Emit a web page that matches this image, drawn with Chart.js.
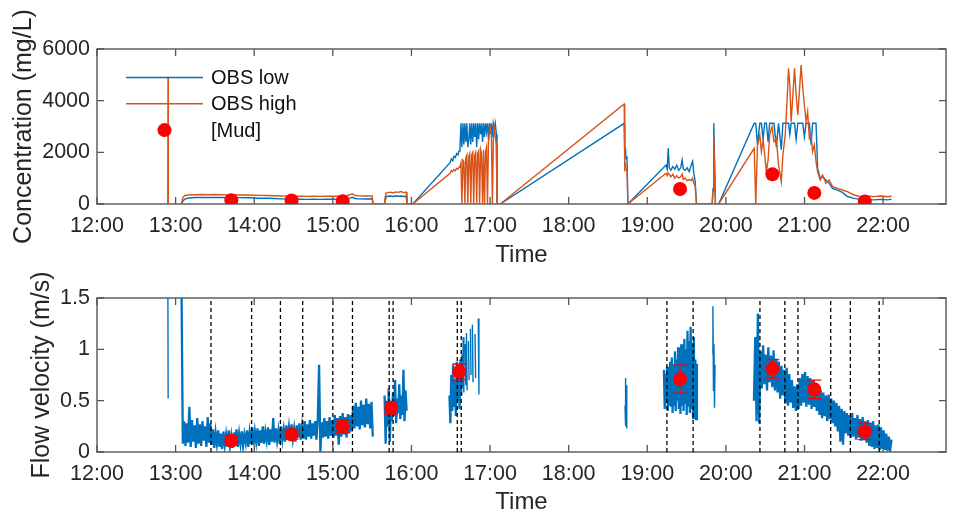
<!DOCTYPE html>
<html>
<head>
<meta charset="utf-8">
<script src="https://cdn.jsdelivr.net/npm/chart.js@4.4.1/dist/chart.umd.min.js"></script>
<style>
  html, body { margin: 0; padding: 0; background: #fff; }
  #wrap { position: relative; width: 953px; height: 517px; }
  canvas { position: absolute; left: 0; }
  #conc { top: 0; }
  #vel { top: 270px; }
</style>
</head>
<body>
<div id="wrap">
  <canvas id="conc" width="953" height="270"></canvas>
  <canvas id="vel" width="953" height="247"></canvas>
</div>
<script>
// Time is measured in minutes after 12:00
const hourTicks = [0, 60, 120, 180, 240, 300, 360, 420, 480, 540, 600];
const hourLabels = ['12:00', '13:00', '14:00', '15:00', '16:00', '17:00', '18:00', '19:00', '20:00', '21:00', '22:00'];
const timeMax = 648;

const concTicks = [0, 2000, 4000, 6000];
const concLabels = ['0', '2000', '4000', '6000'];
const velTicks = [0, 0.5, 1, 1.5];
const velLabels = ['0', '0.5', '1', '1.5'];

// OBS turbidity record (mg/L); null marks a break in logging
const obsTime = [
  54.0, 54.2, 54.4, 60,
  64.5, 65.5, 67, 70, 75, 80, 85, 90, 95, 100, 105, 110, 115, 120, 125, 130, 135, 140, 145, 150, 155,
  160, 165, 170, 175, 180, 185, 190, 193, 195, 197, 200, 205, 210, 210.7,
  219.5, 220, 220.5, 222, 224, 226, 228, 230, 232, 234, 236, 236.6,
  241, 269.5, 270.5, 271.5, 272.5, 273.5, 274.5, 275.5, 276.3,
  277, 277.8, 278.5, 279.3, 280, 280.8, 281.5, 282.3, 283, 283.8, 284.5, 285.3, 286, 286.8, 287.5,
  288.3, 289, 289.8, 290.5, 291.3, 292, 292.8, 293.5, 294.3, 295, 295.8, 296.5, 297.3, 298, 298.8,
  299.5, 300.3, 301, 301.8, 302.5, 303.3, 304, 304.8, 305.3,
  307.8, 402.4, 402.8, 403.3, 403.8, 404.5, 405.2,
  434.3, 435.2, 436, 436.8, 438, 439.5, 441, 442.5, 444, 445.5, 446.6, 447.5, 449, 450.5, 452,
  453.5, 454.6, 455.5, 456.5, 457.6,
  469.5, 470.2, 470.8, 471.5, 472,
  474.5, 501.6, 502.8, 504.1, 505.9, 507.1, 508.4, 509.6, 510.9, 512.2, 513.4, 515.2, 516.7, 518.5,
  520.2, 522.3, 523.5, 525.3, 526.8, 527.8, 528.8, 529.8, 531.3, 532.4, 533.6, 534.9, 536.1, 537.4,
  538.7, 539.9, 541.2, 542.4, 543.7, 545.0, 546.2, 547.5, 548.8, 550.0, 552.0, 553.8, 556.3, 558.8,
  561.4, 565.2, 568.9, 572.7, 577.8, 582.8, 587.9, 592.9, 597.9, 600.5, 603.5, 606.4
];
const obsLow = [
  null, null, null, null,
  0, 110, 190, 230, 250, 255, 250, 255, 250, 245, 250, 245, 240, 230, 225, 225, 215, 200, 190, 185, 190,
  180, 185, 180, 190, 185, 190, 195, 230, 260, 215, 200, 195, 200, 0,
  0, 200, 280, 300, 310, 290, 320, 300, 310, 290, 300, 0,
  0, 1600, 1750, 1680, 1850, 1800, 1950, 1900, 2050,
  2100, 3124, 2200, 3124, 2300, 3124, 2400, 3124, 2200, 2500, 3124, 2300, 3124, 2400, 3124,
  2600, 3124, 2200, 3124, 2500, 3124, 2700, 3124, 2400, 3124, 2600, 3124, 2800, 3124, 2500,
  3124, 2700, 3124, 2600, 3124, 2900, 3124, 2700, 0,
  0, 3124, 1900, 2200, 1750, 1850, 0,
  1510, 1350, 2156, 1400, 1300, 1450, 1350, 1500, 1300, 1400, 1700, 1350, 1300, 1400, 1250,
  1500, 1650, 1200, 900, 0,
  0, 600, 3124, 1300, 0,
  0, 3124, 3124, 2300, 3124, 3124, 2500, 3124, 3124, 2400, 3124, 3124, 3124, 2200,
  3124, 2100, 3124, 3124, 3124, 3124, 2700, 3124, 3124, 3124, 2500, 3124, 3124, 3124,
  3124, 2600, 3124, 3124, 3124, 2300, 3124, 3124, 3124, 1380, 1000, 1060, 930, 800,
  600, 540, 450, 290, 220, 180, 170, 160, 180, 170, 160, 190
];
const obsHigh = [
  0, 4930, 0, null,
  0, 250, 330, 350, 360, 365, 360, 365, 360, 355, 360, 350, 350, 340, 335, 330, 320, 310, 305, 300, 300,
  295, 300, 295, 305, 300, 305, 310, 360, 395, 330, 315, 310, 315, 0,
  0, 300, 420, 440, 460, 430, 470, 450, 480, 440, 460, 0,
  0, 1190, 1300, 1250, 1330, 1290, 1380, 1350, 1420,
  1450, 1600, 0, 1700, 1650, 0, 1800, 1900, 0, 1850, 1950, 0, 1900, 2000, 0,
  1900, 2000, 0, 1950, 2050, 0, 2100, 1950, 0, 2100, 0, 2000, 2200, 0, 2400,
  2800, 3000, 2700, 0, 2500, 3050, 2600, 2300, 0,
  0, 3871, 1400, 1500, 1300, 1350, 0,
  1190, 1100, 1200, 1150, 1050, 1150, 1000, 1100, 1000, 1050, 1150, 950, 1000, 900, 950,
  900, 1000, 800, 700, 0,
  0, 500, 2600, 1200, 0,
  0, 2156, 0, 2284, 2671, 2026, 2477, 1897, 1252, 1700, 2671, 2993, 2413, 2542,
  1510, 865, 1897, 2671, 4091, 5252, 4607, 3188, 4349, 5252, 4220, 3446, 4349, 5381,
  4478, 3833, 3188, 3575, 2542, 2671, 2026, 2284, 1639, 1252, 929, 1123, 800, 929,
  671, 607, 542, 478, 349, 284, 320, 284, 310, 300, 280, 300
];

// Sampling windows (dashed lines) and mud samples taken in them
const winStart = ['13:27', '14:20', '15:00', '15:43', '16:35', '19:15', '20:26', '20:55', '21:35'];
const winEnd = ['13:58', '14:37', '15:15', '15:46', '16:38', '19:35', '20:45', '21:20', '21:57'];
const mudTime = ['13:42:30', '14:28:30', '15:07:30', '15:44:30', '16:36:30', '19:25', '20:35:30', '21:07:30', '21:46'];
const mudConc = [150, 135, 110, null, null, 580, 1150, 430, 100];
const mudVel = [0.11, 0.17, 0.25, 0.43, 0.78, 0.71, 0.81, 0.61, 0.20];
const mudVelErr = [0.045, 0.045, 0.06, 0.06, 0.077, 0.137, 0.09, 0.09, 0.08];

// Velocity bursts (m/s): first sample time, sample spacing (min), continuous or sparse record, samples
const velStart = [54.1, 64.5, 219.5, 269, 278.5, 403, 432.7, 469.7, 501.4];
const velStep = [0.2, 1, 0.8, 0.7, 0.5, 0.3, 0.6, 0.4, 1];
const velDense = [false, true, true, true, false, false, true, false, true];
const velA = [1.6, 0.52];
const velB = [
  1.6, 0.08, 0.30, 0.06, 0.28, 0.09, 0.44, 0.05, 0.31, 0.10, 0.26, 0.04, 0.33, 0.08, 0.27, 0.06, 0.30, 0.11, 0.25, 0.05, 0.34, 0.09, 0.28, 0.07,
  0.22, 0.04, 0.19, 0.08, 0.21, 0.05, 0.18, 0.03, 0.20, 0.07, 0.17, 0.05, 0.21, 0.06, 0.16, 0.04, 0.19, 0.07, 0.22, 0.05, 0.18, 0.08, 0.20, 0.06, 0.17, 0.09, 0.21, 0.05, 0.19, 0.08,
  0.24, 0.07, 0.20, 0.10, 0.23, 0.06, 0.21, 0.09, 0.25, 0.08, 0.20, 0.11, 0.24, 0.07, 0.22, 0.10, 0.33, 0.09, 0.23, 0.11, 0.21, 0.08,
  0.25, 0.12, 0.22, 0.10, 0.26, 0.12, 0.24, 0.11, 0.27, 0.13, 0.23, 0.10, 0.26, 0.14, 0.28, 0.12, 0.25,
  0.13, 0.30, 0.12, 0.27, 0.15, 0.31, 0.13, 0.28, 0.16, 0.30, 0.12, 0.32, 0.85, 0.00, 0.29, 0.14, 0.33, 0.15, 0.30, 0.13, 0.34, 0.16, 0.31,
  0.14, 0.36, 0.16, 0.33, 0.07, 0.35, 0.15, 0.38, 0.17, 0.34, 0.14, 0.37, 0.18, 0.36, 0.20,
  0.45, 0.23, 0.48, 0.25, 0.44, 0.22, 0.50, 0.26, 0.46, 0.24, 0.52, 0.27, 0.47, 0.23, 0.49, 0.15
];
const velC = [0.55, 0.08, 0.50, 0.25, 0.62, 0.10, 0.48, 0.30, 0.58, 0.35, 0.70, 0.28, 0.52, 0.38, 0.66, 0.32, 0.55, 0.36, 0.80, 0.30, 0.60, 0.40];
const velD = [0.55, 0.28, 0.75, 0.40, 0.85, 0.45, 0.70, 0.35, 0.88, 0.50, 0.78, 0.42, 0.90, 0.55];
const velE = [0.95, 0.62, 1.12, 0.58, null, 1.05, 0.65, 1.16, 0.60, null, 1.08, 0.70, null, 1.20, 0.75, null, 1.24, 0.68, null, null, 1.15, 0.72, null, null, null, 1.30, 0.56];
const velF = [0.45, 0.72, 0.25, 0.65, 0.23, 0.55];
const velG = [
  0.80, 0.42, 0.76, 0.48, 0.83, 0.40, 0.72, 0.45, 0.88, 0.44,
  0.92, 0.38, 0.85, 0.46, 0.98, 0.40, 0.90, 0.50, 1.02, 0.42,
  0.95, 0.37, 1.05, 0.45, 0.97, 0.40, 1.10, 0.48, 1.00, 0.36,
  1.18, 0.44, 1.08, 0.38, 1.22, 0.42, 1.05, 0.33, 1.12, 0.40,
  0.90, 0.32, 0.86
];
const velH = [0.95, 1.42, 0.60, 1.05, 0.43, 0.85];
const velI = [
  0.50, 1.12, 0.30, 1.35, 0.28, 0.98, 0.62, 1.04, 0.66, 0.95,
  0.60, 1.02, 0.68, 0.94, 0.63, 0.99, 0.60, 0.91, 0.58, 0.88,
  0.52, 0.84, 0.55, 0.80, 0.47, 0.82, 0.45, 0.76, 0.48, 0.70,
  0.43, 0.64, 0.40, 0.66, 0.42, 0.72, 0.45, 0.76, 0.48, 0.78,
  0.44, 0.74, 0.46, 0.72, 0.42, 0.70, 0.44, 0.66, 0.40, 0.62,
  0.36, 0.60, 0.33, 0.58, 0.35, 0.55, 0.30, 0.56, 0.32, 0.52,
  0.28, 0.50, 0.25, 0.48, 0.20, 0.45, 0.10, 0.42, 0.07, 0.40,
  0.18, 0.38, 0.16, 0.36, 0.14, 0.38, 0.15, 0.33, 0.12, 0.36,
  0.14, 0.32, 0.11, 0.34, 0.12, 0.30, 0.09, 0.31, 0.06, 0.28,
  0.05, 0.30, 0.03, 0.26, 0.04, 0.27, 0.02, 0.24, 0.03, 0.21,
  0.02, 0.18, 0.01, 0.15, 0.02, 0.12
];
const velBursts = [velA, velB, velC, velD, velE, velF, velG, velH, velI];

// ---------------------------------------------------------------------------
const BLUE = '#0072BD';
const ORANGE = '#D95319';
const RED = '#FF0000';
const INK = '#262626';
const FRAME = '#555555';

Chart.defaults.font.family = '"Liberation Sans", Arial, Helvetica, sans-serif';
Chart.defaults.color = INK;

function clockToMin(s) {
  const p = s.split(':').map(Number);
  return (p[0] - 12) * 60 + p[1] + (p[2] || 0) / 60;
}

const mudX = mudTime.map(clockToMin);
const obsLowData = obsTime.map((t, i) => ({ x: t, y: obsLow[i] }));
const obsHighData = obsTime.map((t, i) => ({ x: t, y: obsHigh[i] }));
const mudConcData = mudX.map((t, i) => ({ x: t, y: mudConc[i] }));
const mudVelData = mudX.map((t, i) => ({ x: t, y: mudVel[i] }));

// continuous bursts and sparse bursts go to separate line datasets
const velDenseData = [];
const velSparseData = [];
velBursts.forEach((vals, b) => {
  const out = velDense[b] ? velDenseData : velSparseData;
  vals.forEach((v, i) => out.push({ x: velStart[b] + i * velStep[b], y: v }));
  out.push({ x: velStart[b] + vals.length * velStep[b], y: null });
});

const velTop = velTicks[velTicks.length - 1];
const windowData = [];
winStart.concat(winEnd).map(clockToMin).sort((a, b) => a - b).forEach(t => {
  windowData.push({ x: t, y: 0 }, { x: t, y: velTop }, { x: t, y: null });
});

// Box outline drawn under the data, inward tick marks drawn over it
const boxPlugin = {
  id: 'boxFrame',
  beforeDatasetsDraw(chart) {
    const { ctx, chartArea: a } = chart;
    ctx.save();
    ctx.strokeStyle = FRAME;
    ctx.lineWidth = 1.4;
    ctx.strokeRect(a.left, a.top, a.right - a.left, a.bottom - a.top);
    ctx.restore();
  },
  afterDatasetsDraw(chart) {
    const { ctx, chartArea: a, scales } = chart;
    const L = 7;
    ctx.save();
    ctx.strokeStyle = FRAME;
    ctx.lineWidth = 1.3;
    ctx.beginPath();
    scales.x.ticks.forEach(t => {
      const px = scales.x.getPixelForValue(t.value);
      ctx.moveTo(px, a.bottom); ctx.lineTo(px, a.bottom - L);
      ctx.moveTo(px, a.top); ctx.lineTo(px, a.top + L);
    });
    scales.y.ticks.forEach(t => {
      const py = scales.y.getPixelForValue(t.value);
      ctx.moveTo(a.left, py); ctx.lineTo(a.left + L, py);
      ctx.moveTo(a.right, py); ctx.lineTo(a.right - L, py);
    });
    ctx.stroke();
    ctx.restore();
  }
};

// Error bars of the mud samples, painted right after the window lines
const errorBarPlugin = {
  id: 'errorBars',
  afterDatasetDraw(chart, args, opts) {
    if (!opts.after || chart.data.datasets[args.index].label !== opts.after) return;
    const meta = chart.getDatasetMeta(opts.source);
    const y = chart.scales.y;
    const ctx = chart.ctx;
    const cap = 7;
    ctx.save();
    ctx.strokeStyle = RED;
    ctx.lineWidth = 1.3;
    ctx.beginPath();
    meta.data.forEach((pt, i) => {
      const v = mudVel[i], e = mudVelErr[i];
      if (v == null) return;
      const x = pt.x;
      const yHi = y.getPixelForValue(v + e), yLo = y.getPixelForValue(v - e);
      ctx.moveTo(x, yHi); ctx.lineTo(x, yLo);
      ctx.moveTo(x - cap, yHi); ctx.lineTo(x + cap, yHi);
      ctx.moveTo(x - cap, yLo); ctx.lineTo(x + cap, yLo);
    });
    ctx.stroke();
    ctx.restore();
  }
};

// Legend placed inside the upper-left corner of the axes
const inlineLegend = {
  id: 'inlineLegend',
  afterDraw(chart, args, opts) {
    if (!opts.items) return;
    const { ctx, chartArea: a } = chart;
    ctx.save();
    ctx.font = '20px "Liberation Sans", Arial, Helvetica, sans-serif';
    ctx.textBaseline = 'middle';
    ctx.textAlign = 'left';
    const x0 = a.left + opts.left;
    opts.items.forEach((idx, row) => {
      const ds = chart.data.datasets[idx];
      const y = a.top + opts.top + row * opts.gap;
      if (ds.showLine === false) {
        ctx.fillStyle = ds.pointBackgroundColor;
        ctx.beginPath();
        ctx.arc(x0 + opts.sample / 2, y, ds.pointRadius, 0, Math.PI * 2);
        ctx.fill();
      } else {
        ctx.strokeStyle = ds.borderColor;
        ctx.lineWidth = ds.borderWidth;
        ctx.beginPath();
        ctx.moveTo(x0, y); ctx.lineTo(x0 + opts.sample, y);
        ctx.stroke();
      }
      ctx.fillStyle = '#111';
      ctx.fillText(ds.label, x0 + opts.sample + 8, y + 1);
    });
    ctx.restore();
  }
};

function timeAxis(height, pad) {
  return {
    type: 'linear', min: 0, max: timeMax,
    grid: { display: false, drawTicks: false },
    border: { display: false },
    afterBuildTicks: s => { s.ticks = hourTicks.map(v => ({ value: v })); },
    afterFit: s => { s.height = height; },
    ticks: { padding: pad, maxRotation: 0, autoSkip: false, font: { size: 21.5 }, color: INK,
             callback: (v, i) => hourLabels[i] },
    title: { display: true, text: 'Time', font: { size: 24 }, color: INK, padding: { top: 0, bottom: 0 } }
  };
}

function valueAxis(ticksArr, labels, title, titlePad) {
  return {
    type: 'linear', min: ticksArr[0], max: ticksArr[ticksArr.length - 1],
    grid: { display: false, drawTicks: false },
    border: { display: false },
    afterBuildTicks: s => { s.ticks = ticksArr.map(v => ({ value: v })); },
    afterFit: s => { s.width = 97; },
    ticks: { padding: 7, font: { size: 21.5 }, color: INK, callback: (v, i) => labels[i] },
    title: { display: true, text: title, font: { size: 25 }, color: INK, padding: { top: titlePad, bottom: 0 } }
  };
}

const common = {
  responsive: false,
  animation: false,
  events: [],
  elements: { point: { radius: 0 }, line: { tension: 0 } }
};

new Chart(document.getElementById('conc'), {
  type: 'line',
  data: {
    datasets: [
      { label: 'OBS low', data: obsLowData, borderColor: BLUE, borderWidth: 1.4, pointRadius: 0, order: 2 },
      { label: 'OBS high', data: obsHighData, borderColor: ORANGE, borderWidth: 1.4, pointRadius: 0, order: 1 },
      { label: '[Mud]', data: mudConcData, showLine: false, pointRadius: 7, pointBackgroundColor: RED,
        pointBorderWidth: 0, borderColor: RED, order: 0 }
    ]
  },
  options: Object.assign({}, common, {
    layout: { padding: { left: 0, right: 1, top: 49, bottom: 0 } },
    scales: {
      x: timeAxis(66, 9),
      y: valueAxis(concTicks, concLabels, 'Concentration (mg/L)', 9)
    },
    plugins: {
      legend: { display: false }, tooltip: { enabled: false },
      inlineLegend: { items: [0, 1, 2], left: 29, top: 28.5, gap: 26.3, sample: 77 }
    }
  }),
  plugins: [boxPlugin, inlineLegend]
});

new Chart(document.getElementById('vel'), {
  type: 'line',
  data: {
    datasets: [
      { label: 'velocity', data: velDenseData, borderColor: BLUE, borderWidth: 2.3, pointRadius: 0, order: 3 },
      { label: 'velocity (sparse)', data: velSparseData, borderColor: BLUE, borderWidth: 1.4, pointRadius: 0, order: 2 },
      { label: 'windows', data: windowData, borderColor: '#000', borderWidth: 1.3, borderDash: [4, 3],
        pointRadius: 0, order: 1 },
      { label: 'mud', data: mudVelData, showLine: false, pointRadius: 7, pointBackgroundColor: RED,
        pointBorderWidth: 0, borderColor: RED, order: 0 }
    ]
  },
  options: Object.assign({}, common, {
    layout: { padding: { left: 0, right: 1, top: 28, bottom: 0 } },
    scales: {
      x: timeAxis(65, 9),
      y: valueAxis(velTicks, velLabels, 'Flow velocity (m/s)', 27)
    },
    plugins: {
      legend: { display: false }, tooltip: { enabled: false },
      errorBars: { after: 'windows', source: 3 }
    }
  }),
  plugins: [boxPlugin, errorBarPlugin]
});
</script>
</body>
</html>
